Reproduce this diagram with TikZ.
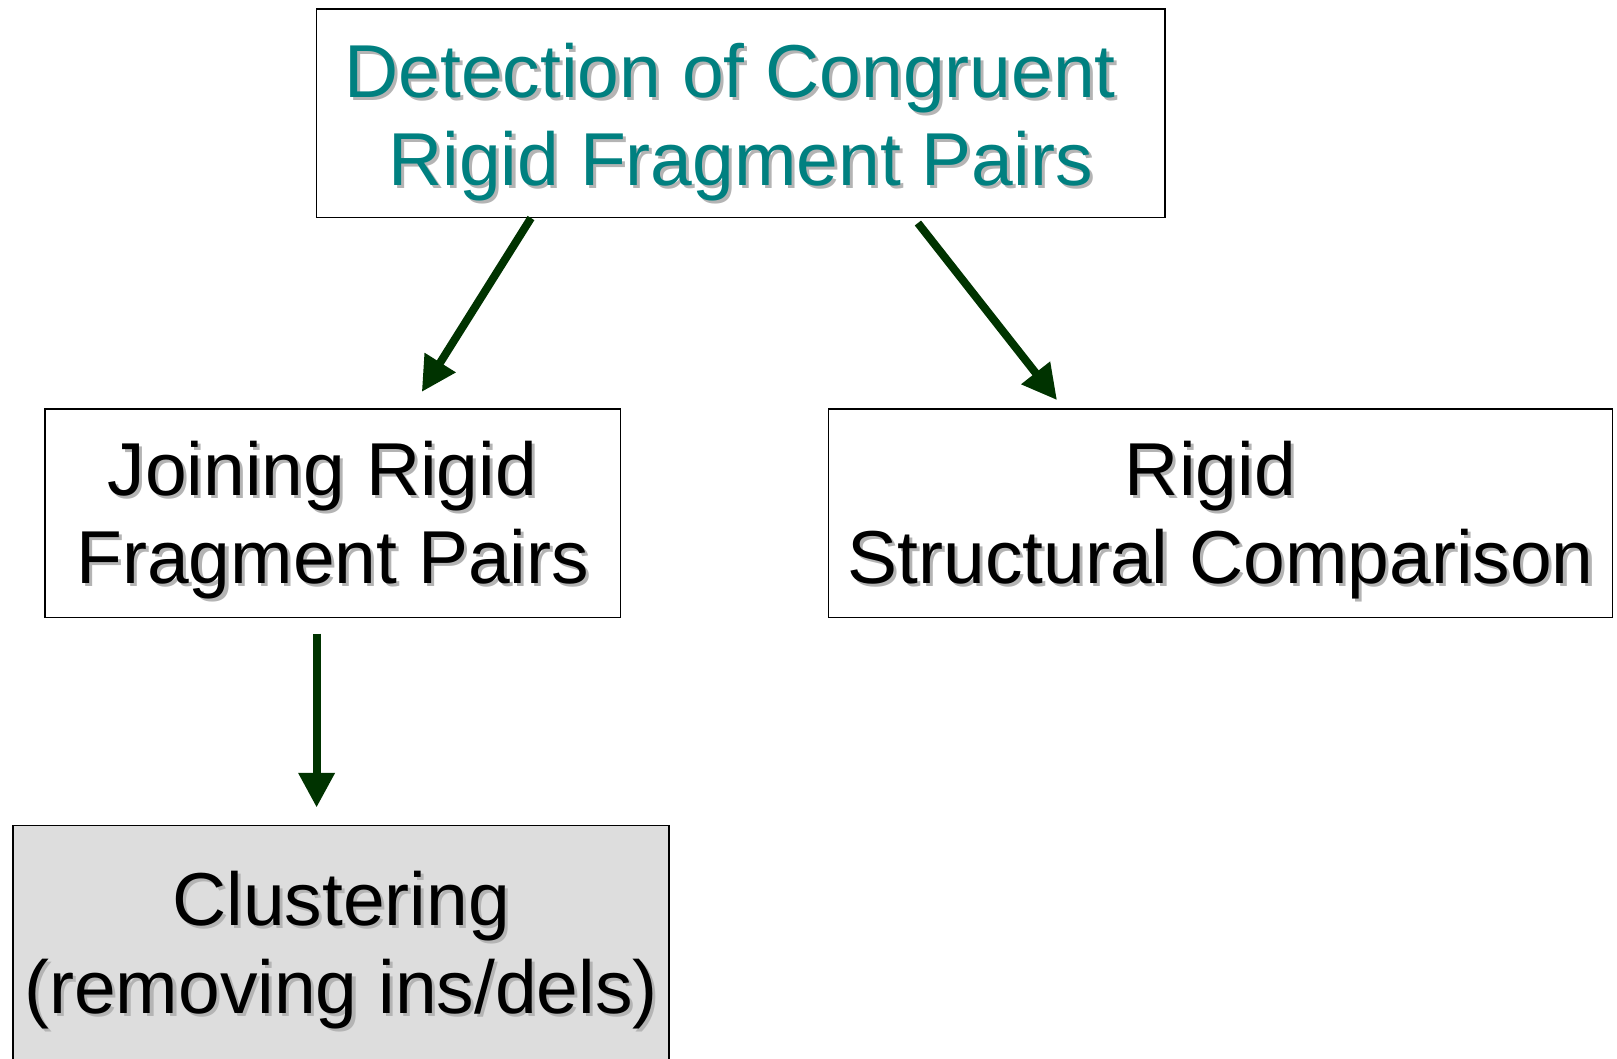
\documentclass[tikz,border=0pt]{standalone}
\usepackage{fontspec}
\setmainfont{Liberation Sans}
\usetikzlibrary{arrows.meta,calc}
\definecolor{titleteal}{HTML}{008080}
\definecolor{arrowgreen}{HTML}{003300}
\definecolor{shadowgray}{HTML}{B4B4B4}
\definecolor{boxgray}{HTML}{DDDDDD}
% text with a soft grey drop shadow
\newcommand\shadowed[1]{\leavevmode\rlap{\kern2.3pt\raisebox{-2.3pt}{\textcolor{shadowgray}{#1}}}#1}
\begin{document}
\begin{tikzpicture}[x=0.75pt,y=-0.75pt,
  box/.style={draw=black,line width=1.1pt,anchor=north west,inner sep=0pt},
  caption/.style={align=center,inner sep=0pt,font=\fontsize{56.25}{66}\selectfont},
  flow/.style={draw=arrowgreen,line width=6pt,-{Triangle[length=26pt,width=26pt]}}]
\useasboundingbox (0,0) rectangle (1617,1059);

% boxes
\node[box,minimum width=636.5pt,minimum height=156.2pt] (top) at (315.6,8.3) {};
\node[box,minimum width=431.6pt,minimum height=156.2pt] (join) at (44.3,408.4) {};
\node[box,minimum width=588pt,minimum height=156.2pt] (rigid) at (828,408.4) {};
\node[box,fill=boxgray,minimum width=491.9pt,minimum height=177.8pt] (clust) at (12.4,825) {};

% captions
\node[caption,text=titleteal] (topT) at ($(top.center)+(0,10)$)
  {\shadowed{Detection of Congruent}\hspace*{0.278em}\\\shadowed{Rigid Fragment Pairs}};
\node[caption] (joinT) at ($(join.center)+(0,8)$)
  {\shadowed{Joining Rigid}\hspace*{0.278em}\\\shadowed{Fragment Pairs}};
\node[caption] (rigidT) at ($(rigid.center)+(0,8)$)
  {\shadowed{Rigid}\hspace*{0.278em}\\\shadowed{Structural Comparison}};
\node[caption] (clustT) at ($(clust.center)+(0,7)$)
  {\shadowed{Clustering}\\\shadowed{(removing ins/dels)}};

% connectors
\draw[flow] ($(top.south west)+(215.4,0)$) -- ($(join.north west)+(377.5,-16.5)$);
\draw[flow] ($(top.south west)+(602.3,5)$) -- ($(rigid.north west)+(229,-8.3)$);
\draw[flow] ($(join.south west)+(272.3,15.5)$) -- ($(clust.north west)+(304.2,-17.5)$);
\end{tikzpicture}
\end{document}
